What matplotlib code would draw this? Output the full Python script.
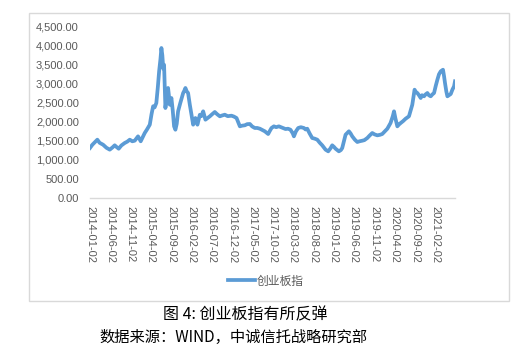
import matplotlib
matplotlib.use("Agg")
import matplotlib.pyplot as plt
import pandas as pd
from matplotlib.patches import Rectangle

# ChiNext index (date, close)
dates = [
    "2014-01-02", "2014-01-20", "2014-02-26", "2014-03-15", "2014-04-10", "2014-05-05",
    "2014-05-30", "2014-06-20", "2014-07-06", "2014-07-20", "2014-08-05", "2014-08-25",
    "2014-09-19", "2014-10-08", "2014-10-27", "2014-11-15", "2014-12-03", "2014-12-15",
    "2014-12-28", "2015-01-17", "2015-02-01", "2015-02-16", "2015-03-05", "2015-03-26",
    "2015-04-08", "2015-04-20", "2015-05-01", "2015-05-14", "2015-05-25", "2015-06-04",
    "2015-06-14", "2015-06-21", "2015-06-28", "2015-07-05", "2015-07-11", "2015-07-16",
    "2015-07-21", "2015-07-30", "2015-08-10", "2015-08-16", "2015-08-23", "2015-09-04",
    "2015-09-14", "2015-09-24", "2015-10-04", "2015-10-14", "2015-10-24", "2015-11-10",
    "2015-12-01", "2015-12-10", "2015-12-18", "2015-12-28", "2016-01-07", "2016-01-20",
    "2016-02-01", "2016-02-14", "2016-03-02", "2016-03-17", "2016-04-04", "2016-04-15",
    "2016-04-29", "2016-05-16", "2016-06-01", "2016-06-18", "2016-07-05", "2016-07-25",
    "2016-08-12", "2016-09-01", "2016-09-20", "2016-10-08", "2016-10-30", "2016-11-27",
    "2016-12-15", "2017-01-04", "2017-01-20", "2017-01-29", "2017-02-15", "2017-03-07",
    "2017-03-25", "2017-04-14", "2017-05-01", "2017-05-21", "2017-06-08", "2017-06-28",
    "2017-07-15", "2017-08-04", "2017-08-29", "2017-09-10", "2017-09-23", "2017-10-11",
    "2017-10-28", "2017-11-17", "2017-12-10", "2018-01-06", "2018-01-25", "2018-02-12",
    "2018-03-01", "2018-03-10", "2018-03-25", "2018-04-11", "2018-05-01", "2018-05-24",
    "2018-06-05", "2018-06-18", "2018-07-05", "2018-07-25", "2018-08-12", "2018-09-01",
    "2018-09-20", "2018-10-08", "2018-10-20", "2018-11-02", "2018-11-22", "2018-12-08",
    "2018-12-22", "2019-01-05", "2019-01-16", "2019-02-10", "2019-02-25", "2019-03-07",
    "2019-03-20", "2019-04-01", "2019-04-26", "2019-05-08", "2019-05-21", "2019-06-10",
    "2019-06-28", "2019-07-15", "2019-08-04", "2019-08-20", "2019-09-11", "2019-09-28",
    "2019-10-18", "2019-11-05", "2019-11-25", "2019-12-15", "2020-01-01", "2020-01-20",
    "2020-02-08", "2020-03-03", "2020-03-20", "2020-03-29", "2020-04-08", "2020-04-23",
    "2020-05-05", "2020-05-18", "2020-06-05", "2020-06-24", "2020-07-05", "2020-07-19",
    "2020-08-01", "2020-08-13", "2020-08-22", "2020-08-30", "2020-09-10", "2020-09-20",
    "2020-10-02", "2020-10-15", "2020-10-25", "2020-11-09", "2020-11-20", "2020-12-04",
    "2020-12-15", "2020-12-29", "2021-01-10", "2021-01-23", "2021-02-05", "2021-02-17",
    "2021-03-01", "2021-03-14", "2021-03-31", "2021-04-08", "2021-04-15", "2021-04-25",
    "2021-05-03", "2021-05-15", "2021-05-28", "2021-06-10", "2021-06-22", "2021-06-29",
]
chinext = [
    1315, 1400, 1532, 1450, 1400, 1320,
    1270, 1330, 1384, 1340, 1295, 1380,
    1445, 1480, 1532, 1490, 1505, 1560,
    1620, 1490, 1600, 1707, 1800, 1926,
    2200, 2410, 2380, 2495, 2900, 3328,
    3650, 3940, 3750, 3400, 3500, 2900,
    2364, 2600, 2890, 2700, 2450, 2627,
    2300, 1883, 1794, 1950, 2277, 2500,
    2758, 2820, 2890, 2800, 2758, 2450,
    2200, 1926, 2101, 1926, 2188, 2150,
    2277, 2057, 2100, 2146, 2200, 2259,
    2200, 2146, 2170, 2188, 2150, 2162,
    2140, 2101, 1960, 1883, 1900, 1910,
    1940, 1944, 1880, 1839, 1840, 1820,
    1790, 1752, 1681, 1760, 1839, 1883,
    1860, 1883, 1850, 1812, 1820, 1794,
    1700, 1620, 1750, 1839, 1860, 1839,
    1800, 1820, 1700, 1576, 1560, 1532,
    1450, 1384, 1330, 1270, 1226, 1300,
    1384, 1340, 1295, 1226, 1260, 1313,
    1500, 1663, 1752, 1700, 1620, 1530,
    1471, 1490, 1505, 1520, 1576, 1640,
    1707, 1670, 1646, 1660, 1681, 1750,
    1820, 1970, 2150, 2277, 2100, 1883,
    1930, 1970, 2020, 2083, 2110, 2146,
    2300, 2450, 2650, 2845, 2780, 2758,
    2700, 2627, 2700, 2671, 2720, 2758,
    2700, 2671, 2720, 2758, 2950, 3107,
    3250, 3328, 3370, 3200, 3021, 2800,
    2671, 2700, 2732, 2850, 2934, 3065,
]
tick_labels = [
    "2014-01-02", "2014-06-02", "2014-11-02", "2015-04-02", "2015-09-02", "2016-02-02",
    "2016-07-02", "2016-12-02", "2017-05-02", "2017-10-02", "2018-03-02", "2018-08-02",
    "2019-01-02", "2019-06-02", "2019-11-02", "2020-04-02", "2020-09-02", "2021-02-02",
]
y_ticks = [0, 500, 1000, 1500, 2000, 2500, 3000, 3500, 4000, 4500]
series_name = "创业板指"
caption = "图 4: 创业板指有所反弹"
source = "数据来源：WIND，中诚信托战略研究部"

plt.rcParams['font.family'] = ['Liberation Sans', 'Noto Sans CJK SC', 'DejaVu Sans']
cjk = ['Noto Sans CJK SC', 'DejaVu Sans']
grey_txt = '#595959'
blue = '#5B9BD5'

x = pd.to_datetime(dates)
ticks = pd.to_datetime(tick_labels)

fig = plt.figure(figsize=(5.30, 3.52), dpi=100)
# chart-area frame like the Excel chart
fig.patches.append(Rectangle((29 / 530, 1 - 301 / 352), 480 / 530, 288 / 352,
                             transform=fig.transFigure, fill=False,
                             edgecolor='#D9D9D9', linewidth=1.0))

ax = fig.add_axes([90 / 530, 1 - 198 / 352, 365 / 530, 171.3 / 352])
line, = ax.plot(x, chinext, color=blue, linewidth=2.7, solid_joinstyle='round')

ax.set_ylim(0, 4500)
ax.set_xlim(x[0], x[-1])
ax.set_yticks(y_ticks)
ax.set_yticklabels(["{:,.2f}".format(v) for v in y_ticks])
ax.set_xticks(ticks)
ax.set_xticklabels(tick_labels, rotation=270, va='top', ha='center')
ax.tick_params(axis='both', length=0, labelsize=8, colors=grey_txt)
ax.tick_params(axis='y', pad=8)
ax.tick_params(axis='x', pad=6)
for s in ['top', 'right', 'left']:
    ax.spines[s].set_visible(False)
ax.spines['bottom'].set_color('#D9D9D9')
ax.spines['bottom'].set_linewidth(1.0)

leg = fig.legend([line], [series_name], loc='center', bbox_to_anchor=(266 / 530, 1 - 281 / 352),
                 frameon=False, handlelength=2.3, handletextpad=0.15,
                 prop={'family': cjk, 'size': 8.5})
for t in leg.get_texts():
    t.set_color(grey_txt)

fig.text(245 / 530, 1 - 315 / 352, caption, ha='center', va='center',
         family=cjk, fontsize=11.5, color='black')
fig.text(233 / 530, 1 - 337 / 352, source, ha='center', va='center',
         family=cjk, fontsize=11, color='black')

plt.savefig('out.png', dpi=100)
